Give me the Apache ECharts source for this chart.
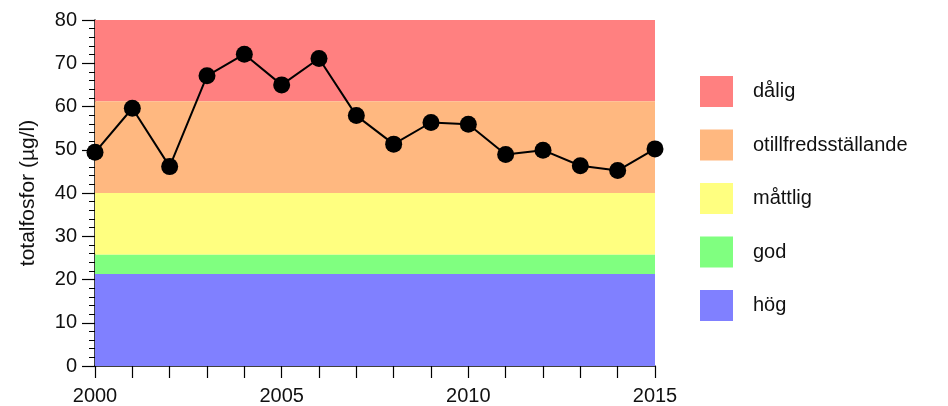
<!DOCTYPE html>
<html>
<head>
<meta charset="utf-8">
<script src="https://cdn.jsdelivr.net/npm/echarts@6/dist/echarts.min.js"></script>
<style>html,body{margin:0;padding:0;background:#fff}#c{width:948px;height:406px}</style>
</head>
<body>
<div id="c"></div>
<script>
var years = [2000,2001,2002,2003,2004,2005,2006,2007,2008,2009,2010,2011,2012,2013,2014,2015];
var values = [49.4,59.6,46.1,67.1,72.1,65.0,71.1,57.9,51.3,56.3,55.9,48.9,49.9,46.3,45.2,50.2];
var classNames = ['dålig','otillfredsställande','måttlig','god','hög'];
var classLower = [61.2,40,25.7,21.3,0];
var classUpper = [80,61.2,40,25.7,21.3];
var classColors = ['#ff8080','#ffb880','#ffff80','#80ff80','#8080ff'];
var yTicks = [0,10,20,30,40,50,60,70,80];
var xLabelYears = [2000,2005,2010,2015];

var font = 'Liberation Sans, Arial, sans-serif';
var series = classNames.map(function(n,i){
  return {
    name: n, type: 'line', data: [], color: classColors[i],
    itemStyle: {color: classColors[i]},
    markArea: {
      silent: true,
      itemStyle: {color: classColors[i], opacity: 1},
      data: [[{yAxis: classLower[i], xAxis: years[0]}, {yAxis: classUpper[i], xAxis: years[years.length-1]}]]
    }
  };
});
series.push({
  name: 'totalfosfor', type: 'line', z: 10,
  data: years.map(function(y,i){return [y, values[i]];}),
  symbol: 'circle', symbolSize: 17, clip: false,
  lineStyle: {color: '#000', width: 2},
  itemStyle: {color: '#000'}
});

var chart = echarts.init(document.getElementById('c'), null, {renderer: 'canvas'});
chart.setOption({
  animation: false,
  backgroundColor: '#fff',
  grid: {left: 95, right: 293, top: 20, bottom: 40, containLabel: false},
  legend: {
    data: classNames, orient: 'vertical', left: 695, top: 71,
    icon: 'rect', itemWidth: 33, itemHeight: 31, itemGap: 22.5,
    selectedMode: false,
    textStyle: {fontFamily: font, fontSize: 20, color: '#111', padding: [0,0,0,15]}
  },
  xAxis: {
    type: 'value', min: 2000, max: 2015, interval: 1,
    axisLine: {show: true, lineStyle: {color: '#000', width: 1.5}},
    axisTick: {show: true, length: 12, lineStyle: {color: '#000', width: 1.2}},
    axisLabel: {
      margin: 20, color: '#111', fontFamily: font, fontSize: 20,
      formatter: function(v){ return xLabelYears.indexOf(v) >= 0 ? String(v) : ''; }
    },
    splitLine: {show: false}
  },
  yAxis: {
    type: 'value', min: yTicks[0], max: yTicks[yTicks.length-1], interval: 10,
    name: 'totalfosfor (µg/l)', nameLocation: 'middle', nameGap: 56, nameRotate: 90,
    nameTextStyle: {fontFamily: font, fontSize: 21, color: '#111'},
    axisLine: {show: true, lineStyle: {color: '#000', width: 1.5}},
    axisTick: {show: true, length: 13, lineStyle: {color: '#000', width: 1.2}},
    minorTick: {show: true, splitNumber: 5, length: 6, lineStyle: {color: '#000', width: 1}},
    axisLabel: {margin: 18, color: '#111', fontFamily: font, fontSize: 20},
    splitLine: {show: false}
  },
  series: series
});
</script>
</body>
</html>
